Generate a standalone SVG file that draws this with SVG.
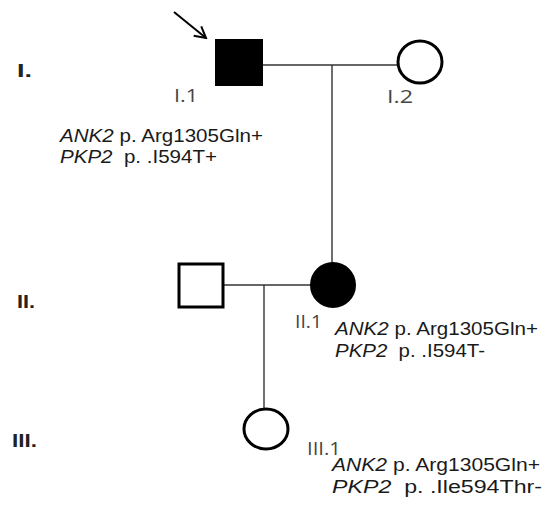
<svg xmlns="http://www.w3.org/2000/svg" width="543" height="508" viewBox="0 0 543 508">
<defs>
<style>
.t{font-family:"Liberation Sans","Open Sans",sans-serif;font-size:18px;fill:#1a1a1a;white-space:pre}
.lbl{font-family:"Open Sans","Liberation Sans",sans-serif;font-size:18px;fill:#444}
.gen{font-family:"Liberation Sans","Open Sans",sans-serif;font-size:19px;font-weight:bold;fill:#222}
.ln{stroke:#333;stroke-width:1.4;fill:none}
.open{fill:#fff;stroke:#000;stroke-width:3}
.fill{fill:#000;stroke:#000;stroke-width:2}
</style>
<marker id="ah" markerWidth="14" markerHeight="14" refX="12" refY="7" orient="auto" markerUnits="userSpaceOnUse">
<path d="M1,1 L12,7 L1,13" fill="none" stroke="#000" stroke-width="2"/>
</marker>
</defs>
<rect width="543" height="508" fill="#fff"/>
<g id="generations">
<text class="gen" x="17" y="77" textLength="15" lengthAdjust="spacingAndGlyphs">I.</text>
<text class="gen" x="17" y="308" textLength="18" lengthAdjust="spacingAndGlyphs">II.</text>
<text class="gen" x="12" y="447" textLength="25" lengthAdjust="spacingAndGlyphs">III.</text>
</g>
<g id="connectors">
<line class="ln" x1="263" y1="65" x2="398" y2="65"/>
<line class="ln" x1="332" y1="65" x2="332" y2="263"/>
<line class="ln" x1="224" y1="285" x2="311" y2="285"/>
<line class="ln" x1="264" y1="285" x2="264" y2="408"/>
<line x1="174" y1="12" x2="206" y2="38" stroke="#000" stroke-width="2" marker-end="url(#ah)"/>
</g>
<g id="I1">
<rect class="fill" x="216" y="40" width="46" height="45"/>
<text class="lbl" x="174" y="102" textLength="24" lengthAdjust="spacingAndGlyphs">I.1</text>
<text class="t" x="60" y="142" textLength="203" lengthAdjust="spacingAndGlyphs"><tspan font-style="italic">ANK2</tspan> p. Arg1305Gln+</text>
<text class="t" x="60" y="163" textLength="157" lengthAdjust="spacingAndGlyphs"><tspan font-style="italic">PKP2</tspan>  p. .I594T+</text>
</g>
<g id="I2">
<ellipse class="open" cx="420" cy="62" rx="22" ry="21"/>
<text class="lbl" x="387" y="103" textLength="26" lengthAdjust="spacingAndGlyphs">I.2</text>
</g>
<g id="II_spouse">
<rect class="open" x="179" y="264" width="44" height="43"/>
</g>
<g id="II1">
<circle class="fill" cx="333" cy="285" r="22"/>
<text class="lbl" x="295" y="328" textLength="27" lengthAdjust="spacingAndGlyphs">II.1</text>
<text class="t" x="335" y="335" textLength="203" lengthAdjust="spacingAndGlyphs"><tspan font-style="italic">ANK2</tspan> p. Arg1305Gln+</text>
<text class="t" x="335" y="357" textLength="150" lengthAdjust="spacingAndGlyphs"><tspan font-style="italic">PKP2</tspan>  p. .I594T-</text>
</g>
<g id="III1">
<ellipse class="open" cx="266" cy="429" rx="22" ry="20"/>
<text class="lbl" x="307" y="455" textLength="34" lengthAdjust="spacingAndGlyphs">III.1</text>
<text class="t" x="332" y="471" textLength="208" lengthAdjust="spacingAndGlyphs"><tspan font-style="italic">ANK2</tspan> p. Arg1305Gln+</text>
<text class="t" x="332" y="493" textLength="210" lengthAdjust="spacingAndGlyphs"><tspan font-style="italic">PKP2</tspan>  p. .Ile594Thr-</text>
</g>
</svg>
